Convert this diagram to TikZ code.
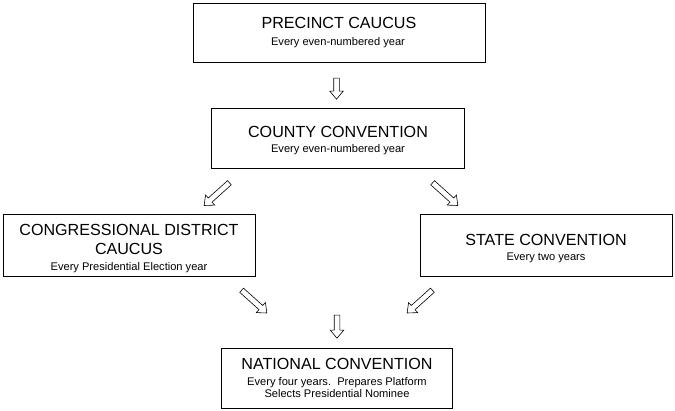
\documentclass[tikz,border=0pt]{standalone}
\usepackage{fontspec}
\setmainfont{Liberation Sans}
\usetikzlibrary{shapes.arrows}
\tikzset{
  box/.style={draw, line width=0.8pt, inner sep=0pt, minimum width=#1},
  ttl/.style={font=\fontsize{16.1}{19}\selectfont, anchor=base, inner sep=0pt, align=center},
  sub/.style={font=\fontsize{11.1}{12}\selectfont, anchor=base, inner sep=0pt, align=center},
  blockarrow/.style={draw, single arrow, line width=0.6pt, inner sep=2.5pt,
    single arrow head extend=4pt, single arrow tip angle=80, minimum height=#1},
  blockarrow/.default=22pt
}
\begin{document}
\begin{tikzpicture}[x=1pt,y=-1pt]
\useasboundingbox (0,0) rectangle (675,410);
% boxes
\node[box=292pt, minimum height=59pt] (precinct) at (339,32.5) {};
\node[box=253pt, minimum height=60pt] (county) at (337.5,138) {};
\node[box=252pt, minimum height=62pt] (congress) at (129,245) {};
\node[box=252pt, minimum height=62pt] (state) at (546,245) {};
\node[box=231pt, minimum height=60pt] (national) at (336.5,378) {};
% texts
\node[ttl] (precinctT) at (339,28) {PRECINCT CAUCUS};
\node[sub] (precinctS) at (338,45) {Every even-numbered year};
\node[ttl] (countyT) at (338,137) {COUNTY CONVENTION};
\node[sub] (countyS) at (338,152) {Every even-numbered year};
\node[ttl] (congressT1) at (129,235) {CONGRESSIONAL DISTRICT};
\node[ttl] (congressT2) at (129,254) {CAUCUS};
\node[sub] (congressS) at (129,270) {Every Presidential Election year};
\node[ttl] (stateT) at (546,245) {STATE CONVENTION};
\node[sub] (stateS) at (546,260) {Every two years};
\node[ttl] (nationalT) at (337,369) {NATIONAL CONVENTION};
\node[sub] (nationalS1) at (337,385) {Every four years.\ \ Prepares Platform};
\node[sub] (nationalS2) at (337,397) {Selects Presidential Nominee};
% arrows
\node[blockarrow=21pt, rotate=-90] (a1) at (336.5,87) {};
\node[blockarrow=34pt, rotate=-138] (a2) at (218,193) {};
\node[blockarrow=34pt, rotate=-42] (a3) at (444,193) {};
\node[blockarrow=34pt, rotate=-42] (a4) at (253,300.5) {};
\node[blockarrow=34pt, rotate=-138] (a5) at (421,300.5) {};
\node[blockarrow=23pt, rotate=-90] (a6) at (337,325) {};
\end{tikzpicture}
\end{document}
